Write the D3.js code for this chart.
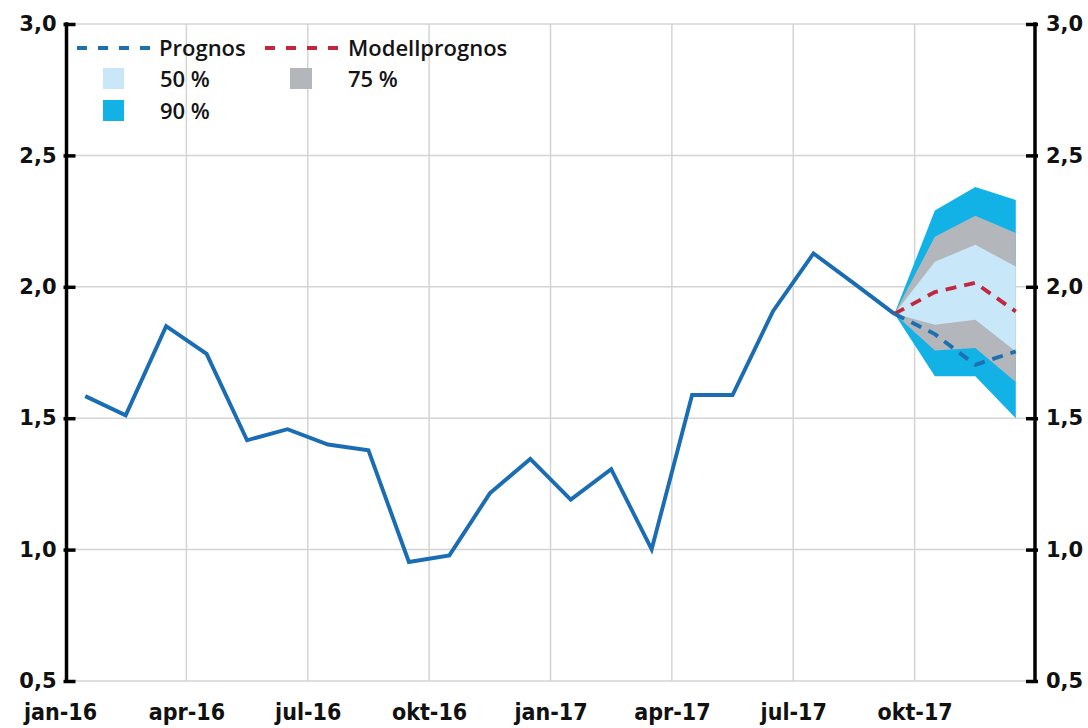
<!DOCTYPE html>
<html>
<head>
<meta charset="utf-8">
<script src="https://cdn.jsdelivr.net/npm/d3@7"></script>
<style>
  html, body { margin: 0; padding: 0; background: #ffffff; }
  svg { display: block; }
</style>
</head>
<body>
<svg id="chart" width="1088" height="728"></svg>
<script>
// ---------- data ----------
const months = ["jan-16","feb-16","mar-16","apr-16","maj-16","jun-16","jul-16","aug-16","sep-16","okt-16","nov-16","dec-16",
                "jan-17","feb-17","mar-17","apr-17","maj-17","jun-17","jul-17","aug-17","sep-17","okt-17","nov-17","dec-17"];
const tickMonths = ["jan-16","apr-16","jul-16","okt-16","jan-17","apr-17","jul-17","okt-17"];
const yTicks = [0.5, 1.0, 1.5, 2.0, 2.5, 3.0];

const outcome = [1.584, 1.511, 1.85, 1.745, 1.416, 1.458, 1.40, 1.378, 0.953, 0.978, 1.214, 1.345,
                 1.19, 1.306, 1.001, 1.588, 1.588, 1.907, 2.127, 2.013, 1.897];

const fanMonths = ["sep-17","okt-17","nov-17","dec-17"];
const upper90 = [1.897, 2.29, 2.38, 2.33];
const upper75 = [1.897, 2.19, 2.27, 2.205];
const upper50 = [1.897, 2.095, 2.16, 2.077];
const lower50 = [1.897, 1.856, 1.875, 1.754];
const lower75 = [1.897, 1.758, 1.767, 1.638];
const lower90 = [1.897, 1.66, 1.66, 1.50];
const prognos = [1.897, 1.82, 1.703, 1.754];
const modell  = [1.897, 1.98, 2.015, 1.906];

const legendItems = ["Prognos", "Modellprognos", "50 %", "75 %", "90 %"];

// ---------- layout ----------
const svg = d3.select("#chart");
const leftX = 66.5, rightX = 1035;
const x = d3.scaleBand().domain(months).range([65, 1036]);
const xc = m => x(m) + x.bandwidth() / 2;
const y = d3.scaleLinear().domain([0.5, 3.0]).range([681, 24]);

const C = {
  line: "#1a6db3",
  prog: "#1d6fb0",
  model: "#c1283d",
  b90: "#12b2e6",
  b75: "#b3b6bb",
  b50: "#c8e7f8",
  grid: "#d4d4d4"
};

// gridlines
const g = svg.append("g");
g.selectAll("line.hg").data(yTicks).join("line")
  .attr("x1", leftX).attr("x2", rightX)
  .attr("y1", d => y(d)).attr("y2", d => y(d))
  .attr("stroke", C.grid).attr("stroke-width", 1.5);
g.selectAll("line.vg").data(tickMonths.slice(1)).join("line")
  .attr("x1", d => x(d)).attr("x2", d => x(d))
  .attr("y1", y(3.0)).attr("y2", y(0.5))
  .attr("stroke", C.grid).attr("stroke-width", 1.5);

// fan
const area = (up, lo) => d3.area()
  .x((d, i) => xc(fanMonths[i]))
  .y0((d, i) => y(lo[i]))
  .y1((d, i) => y(up[i]))(up);
svg.append("path").attr("d", area(upper90, lower90)).attr("fill", C.b90);
svg.append("path").attr("d", area(upper75, lower75)).attr("fill", C.b75);
svg.append("path").attr("d", area(upper50, lower50)).attr("fill", C.b50);

// outcome line
const line = d3.line().x((d, i) => xc(months[i])).y(d => y(d));
svg.append("path").attr("d", line(outcome))
  .attr("fill", "none").attr("stroke", C.line).attr("stroke-width", 3.9)
  .attr("stroke-linejoin", "miter");

const fline = d3.line().x((d, i) => xc(fanMonths[i])).y(d => y(d));
svg.append("path").attr("d", fline(modell))
  .attr("fill", "none").attr("stroke", C.model).attr("stroke-width", 3.9)
  .attr("stroke-dasharray", "11,8");
svg.append("path").attr("d", fline(prognos))
  .attr("fill", "none").attr("stroke", C.prog).attr("stroke-width", 3.9)
  .attr("stroke-dasharray", "11,8");

// axes
const fmt = d => d3.format(".1f")(d).replace(".", ",");
const axisLeft = d3.axisLeft(y).tickValues(yTicks).tickSize(0).tickPadding(10).tickFormat(fmt);
const axisRight = d3.axisRight(y).tickValues(yTicks).tickSize(0).tickPadding(10).tickFormat(fmt);

function styleAxis(sel, side) {
  sel.select(".domain").remove();
  sel.selectAll(".tick text")
    .attr("font-family", "DejaVu Sans, Verdana, sans-serif")
    .attr("font-weight", "bold").attr("font-size", 21).attr("fill", "#111");
  sel.selectAll(".tick").append("line")
    .attr("x1", side === "left" ? -3 : 3).attr("x2", side === "left" ? 9 : -9)
    .attr("stroke", "#000").attr("stroke-width", 3.5);
}
const gl = svg.append("g").attr("transform", `translate(${leftX},0)`).call(axisLeft);
styleAxis(gl, "left");
gl.selectAll(".tick text").attr("x", -10);
const gr = svg.append("g").attr("transform", `translate(${rightX},0)`).call(axisRight);
styleAxis(gr, "right");
gr.selectAll(".tick text").attr("x", 11);

svg.append("line").attr("x1", leftX).attr("x2", leftX).attr("y1", y(3.0) - 1.75).attr("y2", y(0.5) + 1.75)
  .attr("stroke", "#000").attr("stroke-width", 3.5);
svg.append("line").attr("x1", rightX).attr("x2", rightX).attr("y1", y(3.0) - 1.75).attr("y2", y(0.5) + 1.75)
  .attr("stroke", "#000").attr("stroke-width", 3.5);

// x labels
const xAxis = d3.axisBottom(d3.scalePoint().domain(tickMonths).range([x(tickMonths[0]), x(tickMonths[tickMonths.length - 1])]))
  .tickSize(0).tickPadding(0);
const gx = svg.append("g").attr("transform", `translate(0,704)`).call(xAxis);
gx.select(".domain").remove();
gx.selectAll(".tick text")
  .attr("font-family", "DejaVu Sans Condensed, DejaVu Sans, sans-serif")
  .attr("font-weight", "bold").attr("font-size", 23).attr("fill", "#111")
  .attr("dy", "0.35em").attr("y", 8);
gx.selectAll(".tick").filter((d, i) => i === 0).select("text").attr("x", -5);

// legend
const lg = svg.append("g").attr("font-family", "Open Sans, sans-serif")
  .attr("font-size", 22).attr("font-weight", 600).attr("fill", "#141414");
const rows = [56, 87, 119];
lg.append("line").attr("x1", 77).attr("x2", 150).attr("y1", 48).attr("y2", 48)
  .attr("stroke", C.prog).attr("stroke-width", 4).attr("stroke-dasharray", "10,11");
lg.append("text").attr("x", 159).attr("y", rows[0]).text(legendItems[0]);
lg.append("line").attr("x1", 265).attr("x2", 338).attr("y1", 48).attr("y2", 48)
  .attr("stroke", C.model).attr("stroke-width", 4).attr("stroke-dasharray", "10,11");
lg.append("text").attr("x", 348).attr("y", rows[0]).text(legendItems[1]);
lg.append("rect").attr("x", 103).attr("y", 68).attr("width", 21).attr("height", 21).attr("fill", C.b50);
lg.append("text").attr("x", 160).attr("y", rows[1]).text(legendItems[2]);
lg.append("rect").attr("x", 290).attr("y", 68).attr("width", 22).attr("height", 21).attr("fill", C.b75);
lg.append("text").attr("x", 348).attr("y", rows[1]).text(legendItems[3]);
lg.append("rect").attr("x", 103).attr("y", 100).attr("width", 21).attr("height", 21).attr("fill", C.b90);
lg.append("text").attr("x", 160).attr("y", rows[2]).text(legendItems[4]);
</script>
</body>
</html>
